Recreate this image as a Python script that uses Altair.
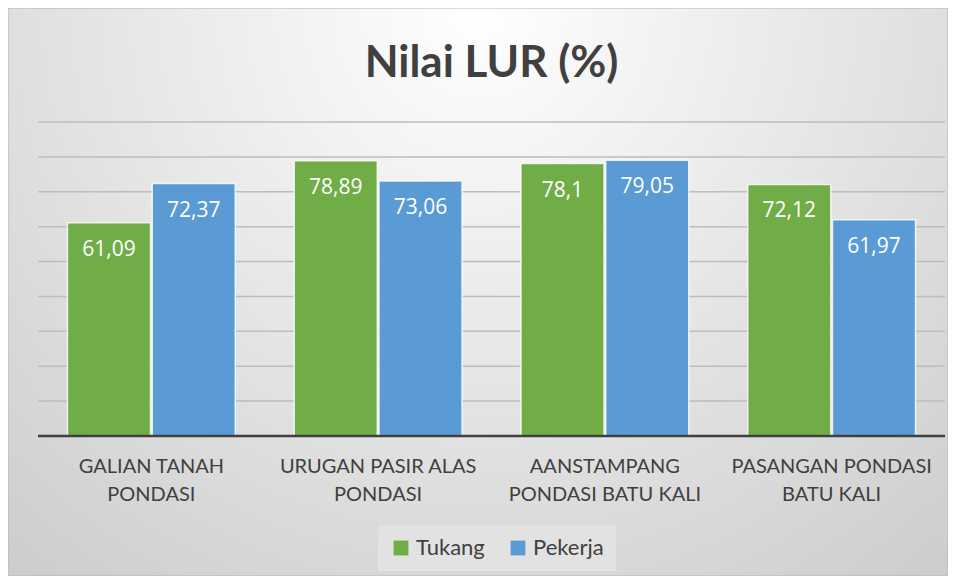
import altair as alt
import pandas as pd

categories = ["GALIAN TANAH|PONDASI", "URUGAN PASIR ALAS|PONDASI",
              "AANSTAMPANG|PONDASI BATU KALI", "PASANGAN PONDASI|BATU  KALI"]
series = ["Tukang", "Pekerja"]
tukang = [61.09, 78.89, 78.1, 72.12]
pekerja = [72.37, 73.06, 79.05, 61.97]
grid_values = [10, 20, 30, 40, 50, 60, 70, 80, 90]
colors = ["#70ad47", "#5b9bd5"]

rows = []
for c, t, p in zip(categories, tukang, pekerja):
    rows.append({"category": c, "series": "Tukang", "value": t})
    rows.append({"category": c, "series": "Pekerja", "value": p})
df = pd.DataFrame(rows)
df["label"] = df["value"].map(lambda v: f"{v:g}".replace(".", ","))

W, H = 907, 314
PAD = {"left": 30, "top": 114, "right": 3, "bottom": 140}

yscale = alt.Scale(domain=[0, 90], nice=False)

x = alt.X("category:N", sort=categories,
          scale=alt.Scale(paddingInner=0.26, paddingOuter=0.13),
          axis=alt.Axis(title=None, labelExpr="split(datum.label, '|')",
                        ticks=False, domain=False, labelAngle=0,
                        labelFont="Lato", labelFontSize=20, labelColor="#404040",
                        labelPadding=20, labelLineHeight=28, labelBaseline="top",
                        labelLimit=400, labelOverlap=False, zindex=1))
xo = alt.XOffset("series:N", sort=series, scale=alt.Scale(paddingInner=0.02))
y = alt.Y("value:Q", scale=yscale, axis=None)

bg = alt.Chart(pd.DataFrame({"a": [0]})).mark_rect(
    fill={"gradient": "radial", "x1": 0.5, "y1": 0.2, "r1": 0,
          "x2": 0.5, "y2": 0.2, "r2": 0.85,
          "stops": [{"offset": 0, "color": "#ffffff"},
                    {"offset": 1, "color": "#c8c8c8"}]},
    stroke="#b5b5b5", strokeWidth=1
).encode(x=alt.value(-PAD["left"]), x2=alt.value(W + PAD["right"]),
         y=alt.value(-PAD["top"]), y2=alt.value(H + PAD["bottom"]))

grid = alt.Chart(pd.DataFrame({"v": grid_values})).mark_rule(
    color="#bdbdbd", strokeWidth=1.5
).encode(y=alt.Y("v:Q", scale=yscale, axis=None))

bars = alt.Chart(df).mark_bar(stroke="#ffffff", strokeOpacity=0.8, strokeWidth=1.5).encode(
    x=x, xOffset=xo, y=y,
    color=alt.Color("series:N", sort=series,
                    scale=alt.Scale(domain=series, range=colors),
                    legend=alt.Legend(title=None, orient="none", legendX=340, legendY=403,
                                      direction="horizontal", symbolType="square",
                                      symbolSize=220, symbolStrokeWidth=0,
                                      labelFont="Lato", labelFontSize=22,
                                      labelColor="#404040", fillColor="#e2e2e2",
                                      padding=12, columnPadding=22, labelOffset=4))
)

text = alt.Chart(df).mark_text(color="white", font="Open Sans", fontSize=21,
                               baseline="middle", dy=27).encode(
    x=x, xOffset=xo, y=y, text="label:N")

zero = alt.Chart(pd.DataFrame({"v": [0]})).mark_rule(
    color="#404040", strokeWidth=2.5
).encode(y=alt.Y("v:Q", scale=yscale, axis=None))

chart = alt.layer(bg, grid, bars, text, zero).properties(
    width=W, height=H,
    title=alt.TitleParams("Nilai LUR (%)", font="Lato", fontSize=44, fontWeight="bold",
                          color="#404040", anchor="middle", offset=-78),
    autosize=alt.AutoSizeParams(type="none"),
    padding=PAD,
).configure_view(stroke=None)

chart.save("out.html", embed_options={"renderer": "svg", "actions": False})
